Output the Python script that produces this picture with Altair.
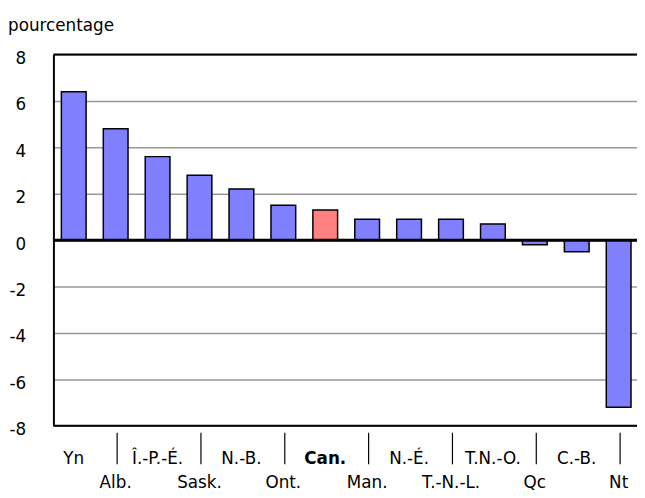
import altair as alt
import pandas as pd

cats = ["Yn", "Alb.", "Î.-P.-É.", "Sask.", "N.-B.", "Ont.", "Can.", "Man.",
        "N.-É.", "T.-N.-L.", "T.N.-O.", "Qc", "C.-B.", "Nt"]
vals = [6.4, 4.8, 3.6, 2.8, 2.2, 1.5, 1.3, 0.9, 0.9, 0.9, 0.7, -0.2, -0.5, -7.2]
y_ticks = [-8, -6, -4, -2, 0, 2, 4, 6, 8]
y_title = "pourcentage"
highlight = "Can."

FONT = "DejaVu Sans"
FS = 17

df = pd.DataFrame({"cat": cats, "val": vals, "idx": list(range(len(cats)))})
df["row"] = df["idx"] % 2

xscale = alt.Scale(range=[0, 593], paddingInner=0.41, paddingOuter=0.19)
yscale = alt.Scale(domain=[-8, 8], nice=False)
X = alt.X("cat:N", sort=cats, scale=xscale, axis=None)

base = alt.Chart(df)

bars = base.mark_bar(stroke="black", strokeWidth=1.5).encode(
    x=X,
    y=alt.Y("val:Q", scale=yscale, title=None,
            axis=alt.Axis(values=y_ticks, grid=True, gridColor="#999999", gridWidth=1.5,
                          ticks=False, domainColor="black", domainWidth=2,
                          labelExpr="toString(datum.value)",
                          labelFont=FONT, labelFontSize=FS, labelColor="black",
                          labelPadding=28, labelOffset=4)),
    color=alt.condition(alt.datum.cat == highlight, alt.value("#FF8080"), alt.value("#8080FF")),
)

frame = alt.Chart(pd.DataFrame({"y": [8, -8]})).mark_rule(color="black", strokeWidth=2).encode(
    y=alt.Y("y:Q", scale=yscale)
)
zero = alt.Chart(pd.DataFrame({"y": [0]})).mark_rule(color="black", strokeWidth=3).encode(
    y=alt.Y("y:Q", scale=yscale)
)

ticks = base.transform_filter(alt.datum.row == 1).mark_rule(color="black", strokeWidth=1.2).encode(
    x=X, y=alt.value(383), y2=alt.value(415), xOffset=alt.value(14)
)

lab1 = base.transform_filter((alt.datum.row == 0) & (alt.datum.cat != highlight)).mark_text(
    font=FONT, fontSize=FS, baseline="alphabetic", align="center", color="black"
).encode(x=X, y=alt.value(415), text="cat:N")
lab1b = base.transform_filter(alt.datum.cat == highlight).mark_text(
    font=FONT, fontSize=FS, fontWeight="bold", baseline="alphabetic", align="center", color="black"
).encode(x=X, y=alt.value(415), text="cat:N")
lab2 = base.transform_filter(alt.datum.row == 1).mark_text(
    font=FONT, fontSize=FS, baseline="alphabetic", align="center", color="black"
).encode(x=X, y=alt.value(439), text="cat:N")

title = alt.Chart(pd.DataFrame({"t": [y_title]})).mark_text(
    font=FONT, fontSize=FS, align="left", baseline="alphabetic", color="black"
).encode(x=alt.value(-46), y=alt.value(-24), text="t:N")

chart = alt.layer(bars, frame, zero, ticks, lab1, lab1b, lab2, title).properties(
    width=591, height=376,
    autosize=alt.AutoSizeParams(type="none"),
    padding={"left": 46, "top": 44, "right": 0, "bottom": 70},
).configure_view(stroke=None)

chart.save("out.html", embed_options={"renderer": "svg", "actions": False})
